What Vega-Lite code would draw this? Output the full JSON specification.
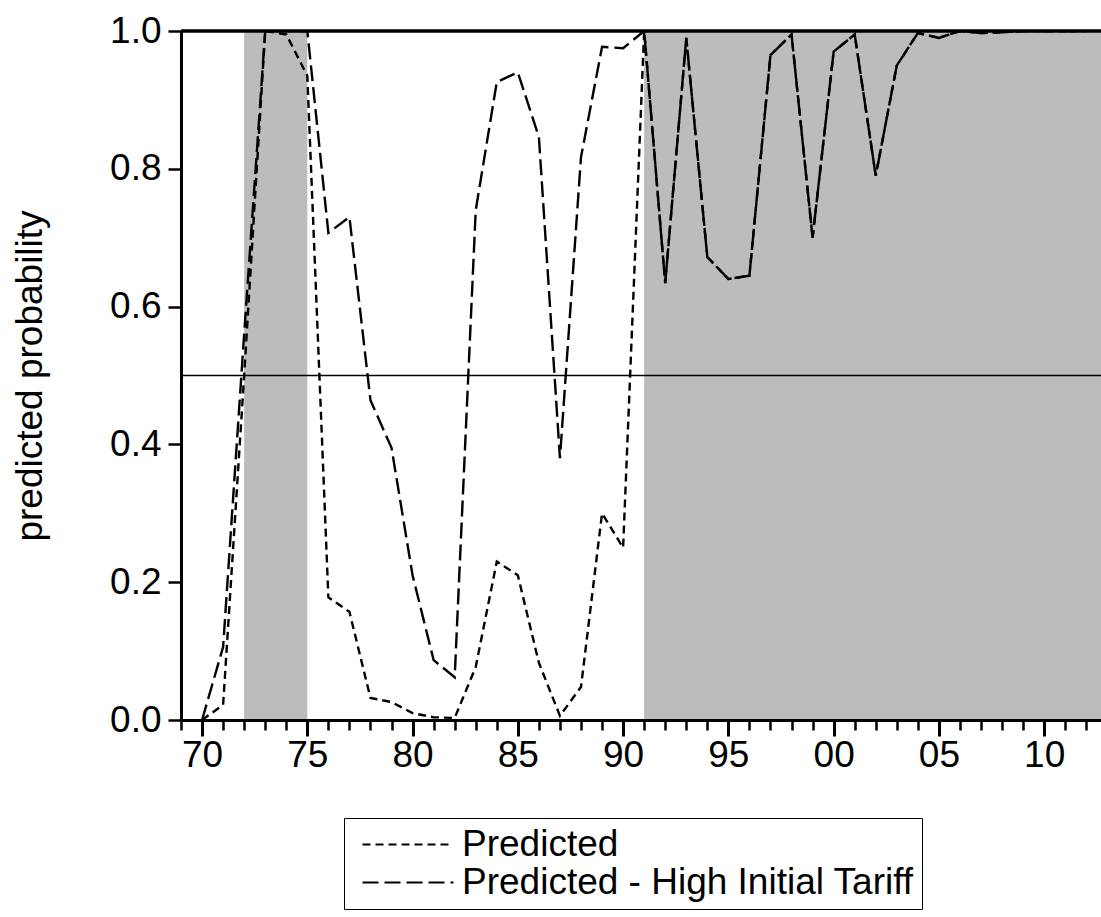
{
  "$schema": "https://vega.github.io/schema/vega-lite/v6.json",
  "autosize": {"type": "none"},
  "width": 920,
  "height": 689,
  "padding": {"left": 181, "top": 31, "right": 0, "bottom": 197},
  "background": "white",
  "config": {"view": {"stroke": null}, "font": "Liberation Sans"},
  "datasets": {
    "shade": [
      {"start": 1972, "end": 1975},
      {"start": 1991, "end": 2013}
    ],
    "ref": [{"p": 0.5}],
    "top": [{"p": 1.0}],
    "series": [
      {"year": 1970, "series": "Predicted", "p": 0.0},
      {"year": 1971, "series": "Predicted", "p": 0.022},
      {"year": 1972, "series": "Predicted", "p": 0.5},
      {"year": 1973, "series": "Predicted", "p": 1.0},
      {"year": 1974, "series": "Predicted", "p": 0.995},
      {"year": 1975, "series": "Predicted", "p": 0.935},
      {"year": 1976, "series": "Predicted", "p": 0.178},
      {"year": 1977, "series": "Predicted", "p": 0.157},
      {"year": 1978, "series": "Predicted", "p": 0.032},
      {"year": 1979, "series": "Predicted", "p": 0.026},
      {"year": 1980, "series": "Predicted", "p": 0.01},
      {"year": 1981, "series": "Predicted", "p": 0.004},
      {"year": 1982, "series": "Predicted", "p": 0.003},
      {"year": 1983, "series": "Predicted", "p": 0.077},
      {"year": 1984, "series": "Predicted", "p": 0.23},
      {"year": 1985, "series": "Predicted", "p": 0.21},
      {"year": 1986, "series": "Predicted", "p": 0.083},
      {"year": 1987, "series": "Predicted", "p": 0.006},
      {"year": 1988, "series": "Predicted", "p": 0.048},
      {"year": 1989, "series": "Predicted", "p": 0.3},
      {"year": 1990, "series": "Predicted", "p": 0.25},
      {"year": 1991, "series": "Predicted", "p": 1.0},
      {"year": 1992, "series": "Predicted", "p": 0.634},
      {"year": 1993, "series": "Predicted", "p": 0.99},
      {"year": 1994, "series": "Predicted", "p": 0.672},
      {"year": 1995, "series": "Predicted", "p": 0.64},
      {"year": 1996, "series": "Predicted", "p": 0.645},
      {"year": 1997, "series": "Predicted", "p": 0.965},
      {"year": 1998, "series": "Predicted", "p": 0.995},
      {"year": 1999, "series": "Predicted", "p": 0.7},
      {"year": 2000, "series": "Predicted", "p": 0.97},
      {"year": 2001, "series": "Predicted", "p": 0.995},
      {"year": 2002, "series": "Predicted", "p": 0.79},
      {"year": 2003, "series": "Predicted", "p": 0.95},
      {"year": 2004, "series": "Predicted", "p": 0.997},
      {"year": 2005, "series": "Predicted", "p": 0.99},
      {"year": 2006, "series": "Predicted", "p": 1.0},
      {"year": 2007, "series": "Predicted", "p": 0.997},
      {"year": 2008, "series": "Predicted", "p": 0.998},
      {"year": 2009, "series": "Predicted", "p": 1.0},
      {"year": 2010, "series": "Predicted", "p": 1.0},
      {"year": 2011, "series": "Predicted", "p": 1.0},
      {"year": 2012, "series": "Predicted", "p": 1.0},
      {"year": 1970, "series": "Predicted - High Initial Tariff", "p": 0.0},
      {"year": 1971, "series": "Predicted - High Initial Tariff", "p": 0.106},
      {"year": 1972, "series": "Predicted - High Initial Tariff", "p": 0.56},
      {"year": 1973, "series": "Predicted - High Initial Tariff", "p": 1.0},
      {"year": 1974, "series": "Predicted - High Initial Tariff", "p": 1.0},
      {"year": 1975, "series": "Predicted - High Initial Tariff", "p": 1.0},
      {"year": 1976, "series": "Predicted - High Initial Tariff", "p": 0.707},
      {"year": 1977, "series": "Predicted - High Initial Tariff", "p": 0.73},
      {"year": 1978, "series": "Predicted - High Initial Tariff", "p": 0.464},
      {"year": 1979, "series": "Predicted - High Initial Tariff", "p": 0.395},
      {"year": 1980, "series": "Predicted - High Initial Tariff", "p": 0.21},
      {"year": 1981, "series": "Predicted - High Initial Tariff", "p": 0.087},
      {"year": 1982, "series": "Predicted - High Initial Tariff", "p": 0.062},
      {"year": 1983, "series": "Predicted - High Initial Tariff", "p": 0.74},
      {"year": 1984, "series": "Predicted - High Initial Tariff", "p": 0.926},
      {"year": 1985, "series": "Predicted - High Initial Tariff", "p": 0.94},
      {"year": 1986, "series": "Predicted - High Initial Tariff", "p": 0.846},
      {"year": 1987, "series": "Predicted - High Initial Tariff", "p": 0.38},
      {"year": 1988, "series": "Predicted - High Initial Tariff", "p": 0.817},
      {"year": 1989, "series": "Predicted - High Initial Tariff", "p": 0.977},
      {"year": 1990, "series": "Predicted - High Initial Tariff", "p": 0.975},
      {"year": 1991, "series": "Predicted - High Initial Tariff", "p": 1.0},
      {"year": 1992, "series": "Predicted - High Initial Tariff", "p": 0.634},
      {"year": 1993, "series": "Predicted - High Initial Tariff", "p": 0.99},
      {"year": 1994, "series": "Predicted - High Initial Tariff", "p": 0.672},
      {"year": 1995, "series": "Predicted - High Initial Tariff", "p": 0.64},
      {"year": 1996, "series": "Predicted - High Initial Tariff", "p": 0.645},
      {"year": 1997, "series": "Predicted - High Initial Tariff", "p": 0.965},
      {"year": 1998, "series": "Predicted - High Initial Tariff", "p": 0.995},
      {"year": 1999, "series": "Predicted - High Initial Tariff", "p": 0.7},
      {"year": 2000, "series": "Predicted - High Initial Tariff", "p": 0.97},
      {"year": 2001, "series": "Predicted - High Initial Tariff", "p": 0.995},
      {"year": 2002, "series": "Predicted - High Initial Tariff", "p": 0.79},
      {"year": 2003, "series": "Predicted - High Initial Tariff", "p": 0.95},
      {"year": 2004, "series": "Predicted - High Initial Tariff", "p": 0.997},
      {"year": 2005, "series": "Predicted - High Initial Tariff", "p": 0.99},
      {"year": 2006, "series": "Predicted - High Initial Tariff", "p": 1.0},
      {"year": 2007, "series": "Predicted - High Initial Tariff", "p": 0.997},
      {"year": 2008, "series": "Predicted - High Initial Tariff", "p": 0.998},
      {"year": 2009, "series": "Predicted - High Initial Tariff", "p": 1.0},
      {"year": 2010, "series": "Predicted - High Initial Tariff", "p": 1.0},
      {"year": 2011, "series": "Predicted - High Initial Tariff", "p": 1.0},
      {"year": 2012, "series": "Predicted - High Initial Tariff", "p": 1.0}
    ]
  },
  "layer": [
    {
      "data": {"name": "shade"},
      "mark": {"type": "rect", "color": "#bcbcbc", "clip": true},
      "encoding": {
        "x": {
          "field": "start", "type": "quantitative",
          "scale": {"domain": [1969, 2012.7], "nice": false, "zero": false},
          "axis": {
            "orient": "bottom",
            "values": [1969,1970,1971,1972,1973,1974,1975,1976,1977,1978,1979,1980,1981,1982,1983,1984,1985,1986,1987,1988,1989,1990,1991,1992,1993,1994,1995,1996,1997,1998,1999,2000,2001,2002,2003,2004,2005,2006,2007,2008,2009,2010,2011,2012],
            "labels": false, "domain": false, "grid": false, "title": null,
            "ticks": true, "tickSize": 10, "tickWidth": 2.5, "tickColor": "black", "tickOpacity": 1,
            "offset": 0, "zindex": 1
          }
        },
        "x2": {"field": "end"}
      }
    },
    {
      "data": {"name": "ref"},
      "mark": {"type": "rule", "color": "black", "strokeWidth": 1.6},
      "encoding": {"y": {"field": "p", "type": "quantitative", "title": "predicted probability"}}
    },
    {
      "data": {"name": "series"},
      "mark": {"type": "line", "color": "black", "strokeWidth": 2.4, "clip": true},
      "encoding": {
        "x": {
          "field": "year", "type": "quantitative",
          "scale": {"domain": [1969, 2012.7], "nice": false, "zero": false},
          "axis": {
            "orient": "bottom",
            "values": [1970, 1975, 1980, 1985, 1990, 1995, 2000, 2005, 2010],
            "labelExpr": "slice(toString(datum.value), 2)",
            "title": null, "grid": false,
            "domainColor": "black", "domainWidth": 3,
            "ticks": true, "tickColor": "black", "tickWidth": 3, "tickSize": 16, "tickOpacity": 1,
            "labelFontSize": 37, "labelColor": "black", "labelPadding": 1,
            "labelFont": "Liberation Sans", "labelFlush": false,
            "offset": 0, "zindex": 1
          }
        },
        "y": {
          "field": "p", "type": "quantitative",
          "title": "predicted probability",
          "scale": {"domain": [0, 1], "nice": false},
          "axis": {
            "values": [0, 0.2, 0.4, 0.6, 0.8, 1.0],
            "format": ".1f",
            "title": "predicted probability",
            "titleFontSize": 37, "titleFontWeight": "normal", "titleColor": "black",
            "titleFont": "Liberation Sans", "titlePadding": 60,
            "grid": false,
            "domainColor": "black", "domainWidth": 3,
            "ticks": true, "tickColor": "black", "tickWidth": 2.5, "tickSize": 13, "tickOpacity": 1,
            "labelFontSize": 37, "labelColor": "black", "labelPadding": 7,
            "labelFont": "Liberation Sans", "labelFlush": false
          }
        },
        "strokeDash": {
          "field": "series", "type": "nominal",
          "scale": {
            "domain": ["Predicted", "Predicted - High Initial Tariff"],
            "range": [[8, 5], [16, 6]]
          },
          "legend": {
            "orient": "none", "legendX": 163, "legendY": 787,
            "title": null,
            "strokeColor": "black", "padding": 8,
            "symbolType": "M-0.57,0H5.93", "symbolSize": 784,
            "symbolStrokeWidth": 2, "symbolStrokeColor": "black",
            "symbolFillColor": "transparent",
            "labelFontSize": 37, "labelFont": "Liberation Sans",
            "labelColor": "black", "labelOffset": 73, "labelLimit": 1000,
            "rowPadding": 0
          }
        }
      }
    },
    {
      "data": {"name": "top"},
      "mark": {"type": "rule", "color": "black", "strokeWidth": 3.5},
      "encoding": {"y": {"field": "p", "type": "quantitative", "title": "predicted probability"}}
    }
  ],
  "resolve": {"axis": {"x": "independent"}}
}
